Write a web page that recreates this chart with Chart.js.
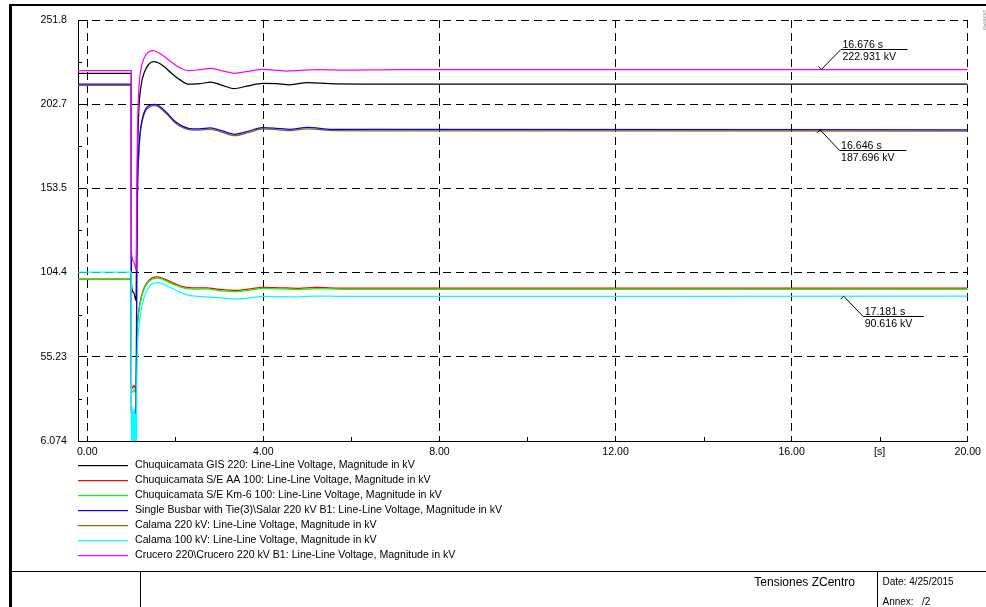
<!DOCTYPE html>
<html lang="en">
<head>
<meta charset="UTF-8">
<title>Tensiones ZCentro</title>
<style>
  * { margin: 0; padding: 0; box-sizing: border-box; }
  body { background: #fff; width: 986px; height: 607px; overflow: hidden; }
  canvas { display: block; }
</style>
<script src="https://cdn.jsdelivr.net/npm/chart.js"></script>
</head>
<body>
<canvas id="voltChart" width="986" height="607"></canvas>
<script>
// axis ticks
const xTicks = [0, 2, 4, 6, 8, 10, 12, 14, 16, 18, 20];
const xLabels = ['0.00', '', '4.00', '', '8.00', '', '12.00', '', '16.00', '[s]', '20.00'];
const yTicks = [6.074, 55.23, 104.4, 153.5, 202.7, 251.8];
const yLabels = ['6.074', '55.23', '104.4', '153.5', '202.7', '251.8'];

const seriesNames = [
  'Chuquicamata GIS 220: Line-Line Voltage, Magnitude in kV',
  'Chuquicamata S/E AA 100: Line-Line Voltage, Magnitude in kV',
  'Chuquicamata S/E Km-6 100: Line-Line Voltage, Magnitude in kV',
  'Single Busbar with Tie(3)\\Salar 220 kV B1: Line-Line Voltage, Magnitude in kV',
  'Calama 220 kV: Line-Line Voltage, Magnitude in kV',
  'Calama 100 kV: Line-Line Voltage, Magnitude in kV',
  'Crucero 220\\Crucero 220 kV B1: Line-Line Voltage, Magnitude in kV'
];
const seriesColors = ['#000000', '#ff0000', '#00ff00', '#0000ff', '#807000', '#00ffff', '#ff00ff'];

// [time in s, voltage in kV]
const chuqGis220 = [[-0.21,220.7],[1.0,220.7],[1.003,98],[1.05,93],[1.11,88],[1.125,130],[1.14,168],[1.17,198],[1.22,213],
  [1.3,221.5],[1.4,226],[1.5,227.5],[1.6,227],[1.75,224.5],[1.9,221],[2.1,217],[2.3,214.3],[2.55,214.6],[2.8,215.5],
  [3.05,213.8],[3.32,211.8],[3.65,213.3],[3.98,214.8],[4.3,214.6],[4.6,214],[5.0,215.2],[5.5,214.6],[6.2,214.4],[20,214.4]];
const aa100 = [[-0.21,100.6],[1.0,100.6],[1.003,40],[1.03,37],[1.06,38.5],[1.11,36],[1.125,62],[1.14,74],[1.17,82],
  [1.22,89.5],[1.3,96],[1.4,99.8],[1.57,101.8],[1.7,101.2],[1.85,99.5],[2.0,97.8],[2.2,96],[2.4,95.4],[2.7,95.5],
  [3.0,94.6],[3.39,94.0],[3.7,94.8],[4.0,95.8],[4.4,95.5],[4.8,95.2],[5.2,95.7],[5.8,95.3],[20,95.3]];
const km6100 = [[-0.21,100.6],[1.0,100.6],[1.003,37],[1.03,34.5],[1.06,36],[1.11,34],[1.125,60],[1.14,73],[1.17,81],
  [1.22,88.8],[1.3,95.3],[1.4,99.1],[1.57,101.1],[1.7,100.5],[1.85,98.8],[2.0,97.1],[2.2,95.3],[2.4,94.7],[2.7,94.8],
  [3.0,93.9],[3.39,93.3],[3.7,94.1],[4.0,95.1],[4.4,94.8],[4.8,94.5],[5.2,95.0],[5.8,94.6],[20,94.6]];
const salar220 = [[-0.21,214.3],[1.0,214.3],[1.003,22],[1.11,20],[1.125,110],[1.14,150],[1.17,175],[1.2,186],[1.25,194],
  [1.32,199.5],[1.42,202],[1.54,202.6],[1.65,201.3],[1.8,197.8],[2.0,192.5],[2.15,190],[2.3,188.6],[2.55,188.3],[2.8,188.8],
  [3.05,187.2],[3.35,185.1],[3.65,186.8],[3.98,189],[4.3,188.6],[4.6,188],[5.0,189.2],[5.57,188],[6.5,188],[20,187.7]];
const calama220 = [[-0.21,213.6],[1.0,213.6],[1.003,24],[1.05,22],[1.11,22.5],[1.125,105],[1.14,147],[1.17,173],[1.2,184.5],
  [1.25,192.8],[1.32,198.5],[1.42,201],[1.54,201.8],[1.65,200.5],[1.8,197],[2.0,191.7],[2.15,189.2],[2.3,187.8],[2.55,187.5],
  [2.8,188],[3.05,186.4],[3.35,184.3],[3.65,186],[3.98,188.2],[4.3,187.8],[4.6,187.2],[5.0,188.3],[5.57,187.2],[6.5,187.1],[20,186.9]];
const calama100 = [[-0.21,104.6],[1.0,104.6],[1.003,30],[1.012,3],[1.024,26],[1.036,2],[1.048,24],[1.06,3],[1.072,25],
  [1.084,2],[1.096,22],[1.108,3],[1.118,5],[1.125,40],[1.14,60],[1.17,72],[1.22,82],[1.3,90.5],[1.42,96.5],[1.6,98.5],
  [1.75,97.5],[1.9,95.5],[2.1,93],[2.3,91.2],[2.6,90.4],[3.0,89.7],[3.4,88.9],[3.7,89.6],[4.0,90.5],[4.4,90.3],[4.8,90.2],
  [5.2,90.7],[5.8,90.5],[20,90.6]];
const crucero220 = [[-0.21,222.2],[1.0,222.2],[1.003,117.5],[1.05,111],[1.11,106],[1.125,150],[1.14,185],[1.17,210],
  [1.22,223],[1.3,230],[1.4,233.3],[1.49,233.9],[1.6,233],[1.75,230.5],[1.9,227.5],[2.1,224],[2.3,222.2],[2.55,222.8],
  [2.78,223.6],[3.05,222.3],[3.35,220.7],[3.65,221.8],[3.98,223],[4.25,222.6],[4.52,222],[4.9,222.5],[5.28,222.8],
  [5.8,222.5],[7,222.8],[20,222.9]];

const seriesData = [chuqGis220, aa100, km6100, salar220, calama220, calama100, crucero220];
const drawOrder = [5, 4, 3, 2, 6, 0, 1];

// cursor readouts: series index, time, value, direction of the leader (-1 up, 1 down)
const cursors = [
  { series: 6, t: 16.676, v: 222.931, dir: -1 },
  { series: 3, t: 16.646, v: 187.696, dir: 1 },
  { series: 5, t: 17.181, v: 90.616, dir: 1 }
];

const FONT = '"Liberation Sans", Arial, sans-serif';

const sheetPlugin = {
  id: 'sheet',
  afterDraw(chart) {
    const { ctx, scales: { x, y } } = chart;
    ctx.save();
    ctx.strokeStyle = '#000';
    ctx.fillStyle = '#000';
    ctx.lineWidth = 1;

    // minor ticks
    ctx.beginPath();
    for (let i = 0; i < yTicks.length - 1; i++) {
      const py = Math.round(y.getPixelForValue((yTicks[i] + yTicks[i + 1]) / 2)) + 0.5;
      ctx.moveTo(x.left, py);
      ctx.lineTo(x.left + 4, py);
    }
    xTicks.forEach(t => {
      if (t % 4 === 0) return;
      const px = Math.round(x.getPixelForValue(t)) + 0.5;
      ctx.moveTo(px, y.bottom);
      ctx.lineTo(px, y.bottom - 4);
    });
    ctx.stroke();

    // cursor readouts
    ctx.font = '10.6px ' + FONT;
    cursors.forEach(c => {
      const px = x.getPixelForValue(c.t);
      const py = y.getPixelForValue(c.v);
      const ex = px + 19.5;
      const ey = Math.round(py + c.dir * 20) + 0.5;
      const top = c.t.toFixed(3) + ' s';
      const bottom = c.v.toFixed(3) + ' kV';
      const w = Math.max(ctx.measureText(top).width, ctx.measureText(bottom).width) + 13;
      ctx.beginPath();
      ctx.moveTo(px - 3, py + c.dir * 3);
      ctx.lineTo(px, py);
      ctx.lineTo(ex, ey);
      ctx.lineTo(ex + w, ey);
      ctx.stroke();
      ctx.textAlign = 'left';
      ctx.textBaseline = 'alphabetic';
      ctx.fillText(top, ex + 1.5, ey - 2);
      ctx.textBaseline = 'top';
      ctx.fillText(bottom, ex + 1.5, ey + 2);
    });

    // legend
    ctx.textBaseline = 'middle';
    seriesNames.forEach((name, i) => {
      const ry = 465 + i * 15;
      ctx.fillStyle = seriesColors[i];
      ctx.fillRect(78, ry, 50, 1.2);
      ctx.fillStyle = '#000';
      ctx.fillText(name, 135, ry + 0.5);
    });

    // sheet frame and title block
    ctx.fillStyle = '#000';
    ctx.fillRect(9, 4, 977, 2);
    ctx.fillRect(9, 4, 3, 603);
    ctx.strokeStyle = '#000';
    ctx.beginPath();
    ctx.moveTo(10, 571.5); ctx.lineTo(986, 571.5);
    ctx.moveTo(140.5, 572); ctx.lineTo(140.5, 607);
    ctx.moveTo(877.5, 572); ctx.lineTo(877.5, 607);
    ctx.stroke();

    ctx.font = '12px ' + FONT;
    ctx.textAlign = 'right';
    ctx.textBaseline = 'middle';
    ctx.fillText('Tensiones ZCentro', 855, 582.5);
    ctx.font = '10px ' + FONT;
    ctx.textAlign = 'left';
    ctx.fillText('Date: 4/25/2015', 882.5, 582.5);
    ctx.fillText('Annex:   /2', 882.5, 602);

    // tiny stamp at top right
    ctx.save();
    ctx.translate(985, 20);
    ctx.rotate(-Math.PI / 2);
    ctx.font = '4px ' + FONT;
    ctx.fillStyle = '#888';
    ctx.textAlign = 'center';
    ctx.fillText('DIgSILENT', 0, 0);
    ctx.restore();

    ctx.restore();
  }
};

const ctx = document.getElementById('voltChart').getContext('2d');
const voltChart = new Chart(ctx, {
  type: 'line',
  data: {
    datasets: seriesData.map((arr, i) => ({
      label: seriesNames[i],
      data: arr.map(([t, v]) => ({ x: t, y: v })),
      borderColor: seriesColors[i],
      borderWidth: 1.25,
      pointRadius: 0,
      fill: false,
      cubicInterpolationMode: 'monotone',
      order: drawOrder[i]
    }))
  },
  options: {
    responsive: false,
    animation: false,
    devicePixelRatio: 1,
    layout: { padding: { left: 0, top: 20, right: 16, bottom: 146 } },
    plugins: { legend: { display: false }, tooltip: { enabled: false } },
    scales: {
      x: {
        type: 'linear',
        min: -0.21,
        max: 20,
        afterBuildTicks: s => { s.ticks = xTicks.map(v => ({ value: v })); },
        afterFit: s => { s.height = 20; },
        grid: {
          color: c => (c.tick && c.tick.value % 4 === 0) ? '#000' : 'rgba(0,0,0,0)',
          lineWidth: 1,
          drawTicks: false
        },
        border: { display: true, color: '#000', width: 1, dash: [8, 5] },
        ticks: {
          autoSkip: false,
          maxRotation: 0,
          padding: 5,
          color: '#000',
          font: { family: FONT, size: 10.6 },
          callback: (v, i) => xLabels[i]
        }
      },
      y: {
        type: 'linear',
        min: 6.074,
        max: 251.8,
        afterBuildTicks: s => { s.ticks = yTicks.map(v => ({ value: v })); },
        afterFit: s => { s.width = 78; },
        grid: { color: '#000', lineWidth: 1, drawTicks: false },
        border: { display: true, color: '#000', width: 1, dash: [8, 5] },
        ticks: {
          padding: 11,
          color: '#000',
          font: { family: FONT, size: 10.6 },
          callback: (v, i) => yLabels[i]
        }
      }
    }
  },
  plugins: [sheetPlugin]
});
</script>
</body>
</html>
